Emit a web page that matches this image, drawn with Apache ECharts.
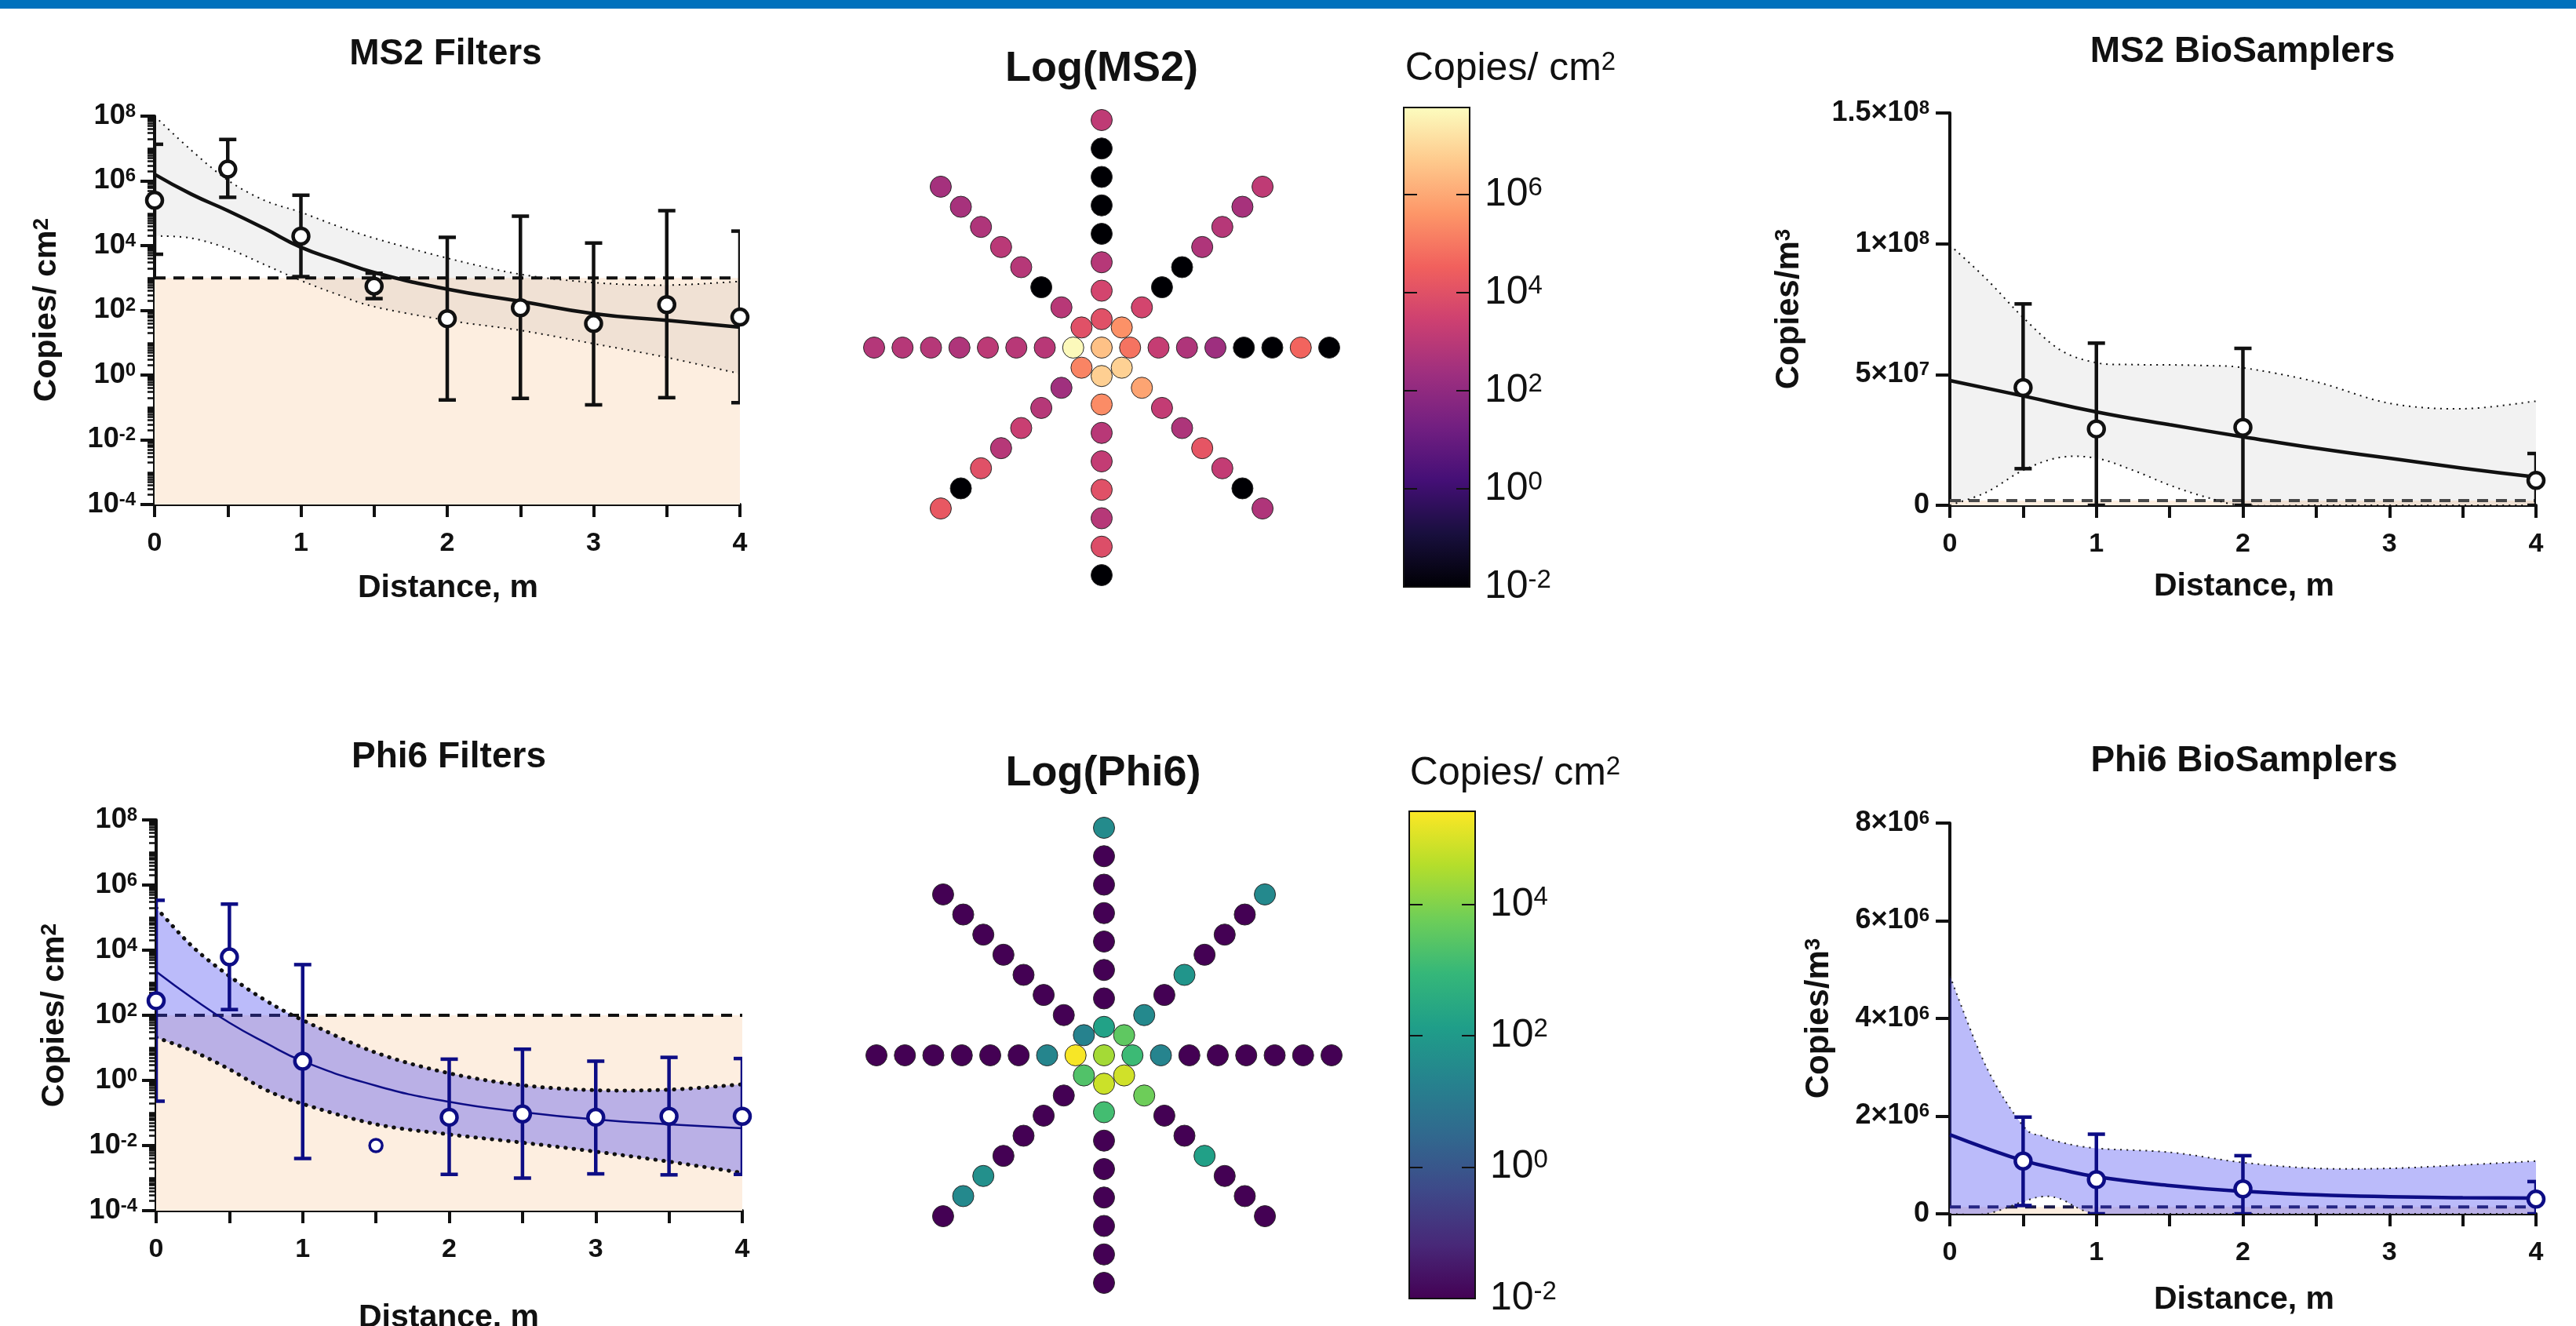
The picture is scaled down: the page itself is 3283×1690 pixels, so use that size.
<!DOCTYPE html>
<html>
<head>
<meta charset="utf-8">
<title>MS2 / Phi6 deposition</title>
<script src="https://cdn.jsdelivr.net/npm/echarts@6.0.0/dist/echarts.min.js"></script>
<style>
  html, body { margin: 0; padding: 0; background: #fff; }
  #main { width: 3283px; height: 1690px; }
</style>
</head>
<body>
<div id="main"></div>
<script>
// ---------- values ----------

// filters, every 0.5 m
var filterX = [0, 0.5, 1, 1.5, 2, 2.5, 3, 3.5, 4];
var ms2FilterMean = [2.5e5, 2.3e6, 1.95e4, 5.6e2, 55, 120, 39, 150, 62];
var ms2FilterLow  = [5.4e3, 3.1e5, 1.1e3, 2.3e2, 0.17, 0.19, 0.12, 0.2, 0.14];
var ms2FilterHigh = [1.35e7, 1.9e7, 3.6e5, 1.4e3, 1.8e4, 8.1e4, 1.2e4, 1.2e5, 2.8e4];

var ms2FilterCurveX = [0, 0.25, 0.5, 0.75, 1, 1.25, 1.5, 2, 2.5, 3, 3.5, 4];
var ms2FilterFit  = [1.6e6, 3.9e5, 1.2e5, 3.4e4, 8.9e3, 3.5e3, 1.48e3, 4.5e2, 1.9e2, 79, 49, 30];
var ms2FilterCiHi = [1e8, 8.9e6, 1.05e6, 2.5e5, 1.07e5, 4e4, 1.7e4, 4.1e3, 1.3e3, 7.2e2, 6e2, 7.8e2];
var ms2FilterCiLo = [2.0e4, 1.7e4, 8.1e3, 2.6e3, 8.3e2, 3.1e2, 1.3e2, 49, 24, 9.3, 3.5, 1.1];
var ms2FilterLod = 1e3;

var phi6FilterMean = [2.8e2, 6.2e3, 3.9, 1e-2, 0.074, 0.093, 0.074, 0.079, 0.079];
var phi6FilterLow  = [0.23, 1.5e2, 4e-3, null, 1.3e-3, 1.0e-3, 1.35e-3, 1.26e-3, 1.3e-3];
var phi6FilterHigh = [3.4e5, 2.6e5, 3.6e3, null, 4.5, 9.1, 3.9, 5.1, 4.7];

var phi6FilterCurveX = [0, 0.25, 0.5, 0.75, 1, 1.5, 2, 2.5, 3, 3.5, 4];
var phi6FilterFit  = [2.2e3, 3.3e2, 59, 14, 3.9, 0.69, 0.22, 0.107, 0.063, 0.045, 0.034];
var phi6FilterCiHi = [2.0e5, 1.26e4, 1.6e3, 2.8e2, 71, 7.1, 1.66, 0.71, 0.5, 0.52, 0.76];
var phi6FilterCiLo = [21, 7.9, 2.2, 0.51, 0.19, 0.045, 0.022, 0.0123, 0.0065, 0.0032, 0.00145];
var phi6FilterLod = 1e2;

// biosamplers
var bioX = [0.5, 1, 2, 4];
var ms2BioMean = [4.5e7, 2.92e7, 2.98e7, 0.95e7];
var ms2BioLow  = [1.4e7, 0, 0, 0];
var ms2BioHigh = [7.7e7, 6.2e7, 6.0e7, 1.98e7];
var ms2BioFitX = [0, 0.5, 1, 1.5, 2, 2.5, 3, 3.5, 4];
var ms2BioFit  = [4.77e7, 4.18e7, 3.57e7, 3.08e7, 2.62e7, 2.18e7, 1.8e7, 1.42e7, 1.08e7];
var ms2BioCiX  = [0, 0.25, 0.5, 0.75, 1, 1.25, 1.5, 1.75, 2, 2.5, 3, 3.5, 4];
var ms2BioCiHi = [9.95e7, 8.65e7, 7.18e7, 5.95e7, 5.45e7, 5.38e7, 5.37e7, 5.34e7, 5.26e7, 4.72e7, 3.9e7, 3.69e7, 3.98e7];
var ms2BioCiLo = [0, 0.5e7, 1.34e7, 1.83e7, 1.8e7, 1.34e7, 0.77e7, 0.31e7, 0, 0, 0, 0, 0];
var ms2BioLod = 1.8e6;

var phi6BioMean = [1.08e6, 0.70e6, 0.51e6, 0.30e6];
var phi6BioLow  = [0.17e6, 0, 0, 0];
var phi6BioHigh = [1.98e6, 1.63e6, 1.19e6, 0.66e6];
var phi6BioFitX = [0, 0.25, 0.5, 0.75, 1, 1.5, 2, 2.5, 3, 3.5, 4];
var phi6BioFit  = [1.62e6, 1.34e6, 1.09e6, 0.91e6, 0.76e6, 0.58e6, 0.46e6, 0.39e6, 0.35e6, 0.33e6, 0.32e6];
var phi6BioCiX  = [0, 0.25, 0.5, 0.625, 0.75, 1, 1.5, 2, 2.5, 3, 3.5, 4];
var phi6BioCiHi = [4.87e6, 3.0e6, 1.8e6, 1.6e6, 1.47e6, 1.34e6, 1.26e6, 1.05e6, 0.93e6, 0.93e6, 1.0e6, 1.08e6];
var phi6BioCiLo = [0, 0, 0.25e6, 0.35e6, 0.31e6, 0, 0, 0, 0, 0, 0, 0];
var phi6BioLod = 0.14e6;

// star maps: log10(copies/cm2), centre dot + 8 rings along each ray
var rayAngles = [0, 45, 90, 135, 180, 225, 270, 315];
var ms2Centre = 6.5;
var ms2Rays = [
  [4.9, 3.25, 2.75, 2.35, -2, -2, 4.6, -2],
  [5.5, 3.6, -2, -2, 2.75, 2.9, 2.55, 3.1],
  [4.0, 3.6, 2.9, -2, -2, -2, -2, 3.1],
  [4.0, 2.95, -2, 2.9, 3.0, 2.75, 2.55, 2.5],
  [7.7, 2.95, 2.95, 3.05, 2.75, 2.9, 2.9, 2.85],
  [5.25, 2.4, 2.9, 3.35, 2.9, 4.0, -2, 4.25],
  [6.8, 5.4, 2.95, 3.2, 4.0, 2.9, 3.9, -2],
  [6.85, 5.9, 3.2, 2.7, 4.15, 3.2, -2, 2.75]
];
var phi6Centre = 4.4;
var phi6Rays = [
  [3.05, 1.35, -2, -2, -2, -2, -2, -2],
  [3.55, 1.5, -2, 1.85, -2, -2, -2, 1.5],
  [2.25, -2, -2, -2, -2, -2, -2, 1.55],
  [1.3, -2, -2, -2, -2, -2, -2, -2],
  [5.35, 1.4, -2, -2, -2, -2, -2, -2],
  [3.35, -2, -2, -2, -2, 1.7, 1.5, -2],
  [4.85, 3.15, -2, -2, -2, -2, -2, -2],
  [4.9, 3.75, -2, -2, 2.2, -2, -2, -2]
];
var ms2BarRange = [-2, 7.78];
var phi6BarRange = [-2, 5.42];

// tick values
var logTicks = [1e-4, 1e-2, 1, 1e2, 1e4, 1e6, 1e8];
var ms2BarTicks = [-2, 0, 2, 4, 6];
var phi6BarTicks = [-2, 0, 2, 4];

// short log ticks: 2..9 within each decade plus the odd decades
var minorLogTicks = [];
for (var e = -4; e < 8; e++) {
  for (var k = 1; k < 10; k++) {
    if (k === 1 && e % 2 === 0) continue;
    minorLogTicks.push(k * Math.pow(10, e));
  }
}

// ---------- styling ----------
var FONT = '"Liberation Sans", Arial, Helvetica, sans-serif';
var INK = '#111';
var NAVY = '#0d0d85';
var PEACH = '#fdeee0';
var MAGMA = ['#000004', '#180f3d', '#440f76', '#721f81', '#9e2f7f', '#cd4071', '#f1605d', '#fd9668', '#feca8d', '#fcfdbf'];
var VIRIDIS = ['#440154', '#482878', '#3e4989', '#31688e', '#26828e', '#1f9e89', '#35b779', '#6ece58', '#b5de2b', '#fde725'];

var boldRich = {
  b: {fontFamily: FONT, fontWeight: 'bold', fontSize: 36, color: INK, verticalAlign: 'bottom'},
  s: {fontFamily: FONT, fontWeight: 'bold', fontSize: 24, color: INK, verticalAlign: 'top'}
};
var barRich = {
  b: {fontFamily: FONT, fontSize: 50, color: INK, verticalAlign: 'bottom'},
  s: {fontFamily: FONT, fontSize: 33, color: INK, verticalAlign: 'top'}
};

function zip(xs, ys) {
  return xs.map(function (x, i) { return [x, ys[i]]; });
}
function powerLabel(v) {
  return '{b|10}{s|' + Math.round(Math.log10(v)) + '}';
}
function expLabel(v) {
  return '{b|10}{s|' + v + '}';
}
function sciLabel(v) {
  if (v === 0) return '{b|0}';
  var e = Math.floor(Math.log10(v) + 1e-9);
  var m = +(v / Math.pow(10, e)).toFixed(2);
  return '{b|' + m + '×10}{s|' + e + '}';
}

var grids = [
  {left: 197, top: 148, width: 746, height: 495},
  {left: 2485, top: 144, width: 747, height: 500},
  {left: 199, top: 1045, width: 747, height: 498},
  {left: 2485, top: 1049, width: 747, height: 498},
  {left: 1789, top: 137, width: 84, height: 611},
  {left: 1796, top: 1034, width: 84, height: 621}
].map(function (g) { g.containLabel = false; g.outerBoundsMode = 'none'; return g; });

function distAxis(gi) {
  return {
    gridIndex: gi, type: 'value', min: 0, max: 4, interval: 0.5,
    axisLine: {onZero: false, lineStyle: {color: INK, width: 4}},
    axisTick: {length: 16, lineStyle: {color: INK, width: 4}},
    axisLabel: {margin: 33, fontFamily: FONT, fontWeight: 'bold', fontSize: 34, color: INK,
      formatter: function (v) { return v % 1 === 0 ? String(v) : ''; }},
    splitLine: {show: false}
  };
}
function logAxis(gi) {
  return {
    gridIndex: gi, type: 'log', logBase: 10, min: 1e-4, max: 1e8, splitNumber: 12, position: 'left',
    axisLine: {lineStyle: {color: INK, width: 4}},
    axisTick: {length: 18, lineStyle: {color: INK, width: 4}, customValues: logTicks},
    axisLabel: {margin: 24, customValues: logTicks, formatter: powerLabel, rich: boldRich},
    splitLine: {show: false}
  };
}
function logMinorAxis(gi) {
  return {
    gridIndex: gi, type: 'log', logBase: 10, min: 1e-4, max: 1e8, splitNumber: 12, position: 'left',
    axisLine: {show: false},
    axisTick: {length: 9, lineStyle: {color: INK, width: 2.5}, customValues: minorLogTicks},
    axisLabel: {show: false},
    splitLine: {show: false}
  };
}
function linAxis(gi, max, step) {
  return {
    gridIndex: gi, type: 'value', min: 0, max: max, interval: step, position: 'left',
    axisLine: {lineStyle: {color: INK, width: 4}},
    axisTick: {length: 18, lineStyle: {color: INK, width: 4}},
    axisLabel: {margin: 26, formatter: sciLabel, rich: boldRich},
    splitLine: {show: false}
  };
}
function barAxis(gi, range, side, ticks, labels) {
  return {
    gridIndex: gi, type: 'value', position: side, min: range[0], max: range[1], z: 10,
    axisLine: {show: false},
    splitLine: {show: false},
    axisTick: {inside: true, length: 17, lineStyle: {color: INK, width: 2},
      customValues: ticks.filter(function (v) { return v > range[0]; })},
    axisLabel: labels ? {margin: 19, customValues: ticks, formatter: expLabel, rich: barRich} : {show: false}
  };
}

var xAxes = [distAxis(0), distAxis(1), distAxis(2), distAxis(3),
  {gridIndex: 4, type: 'value', min: 0, max: 1, show: false},
  {gridIndex: 5, type: 'value', min: 0, max: 1, show: false}];
var yAxes = [
  logAxis(0), linAxis(1, 1.5e8, 5e7), logAxis(2), linAxis(3, 8e6, 2e6),
  barAxis(4, ms2BarRange, 'left', ms2BarTicks, false),
  barAxis(4, ms2BarRange, 'right', ms2BarTicks, true),
  barAxis(5, phi6BarRange, 'left', phi6BarTicks, false),
  barAxis(5, phi6BarRange, 'right', phi6BarTicks, true),
  logMinorAxis(0), logMinorAxis(2)
];

// ---------- series builders ----------
function errorBars(color) {
  return function (params, api) {
    var lo = api.value(1), hi = api.value(2);
    if (isNaN(lo) || isNaN(hi)) return null;
    var a = api.coord([api.value(0), lo]);
    var b = api.coord([api.value(0), hi]);
    var cap = 11;
    var st = {stroke: color, lineWidth: 4.5};
    return {type: 'group', children: [
      {type: 'line', shape: {x1: a[0], y1: a[1], x2: b[0], y2: b[1]}, style: st},
      {type: 'line', shape: {x1: a[0] - cap, y1: a[1], x2: a[0] + cap, y2: a[1]}, style: st},
      {type: 'line', shape: {x1: b[0] - cap, y1: b[1], x2: b[0] + cap, y2: b[1]}, style: st}
    ]};
  };
}

// Catmull-Rom through pixel points -> cubic bezier path commands
function spline(pts) {
  var d = '';
  for (var i = 0; i < pts.length - 1; i++) {
    var p0 = pts[i - 1] || pts[i], p1 = pts[i], p2 = pts[i + 1], p3 = pts[i + 2] || p2;
    d += ' C' + (p1[0] + (p2[0] - p0[0]) / 6) + ' ' + (p1[1] + (p2[1] - p0[1]) / 6) +
         ' ' + (p2[0] - (p3[0] - p1[0]) / 6) + ' ' + (p2[1] - (p3[1] - p1[1]) / 6) +
         ' ' + p2[0] + ' ' + p2[1];
  }
  return d;
}

// confidence band: fill between the bounds plus the two dotted bound lines
function ciBand(fill, line) {
  return function (params, api) {
    if (params.dataIndexInside !== 0) return null;
    var n = params.dataInsideLength;
    var up = [], lo = [];
    for (var i = 0; i < n; i++) {
      var x = api.value(0, i);
      lo.push(api.coord([x, api.value(1, i)]));
      up.push(api.coord([x, api.value(2, i)]));
    }
    var rev = lo.slice().reverse();
    var area = 'M' + up[0][0] + ' ' + up[0][1] + spline(up) +
      ' L' + rev[0][0] + ' ' + rev[0][1] + spline(rev) + ' Z';
    var st = {fill: 'none', stroke: line.color, lineWidth: line.width, lineDash: line.dash, lineCap: line.cap || 'butt'};
    return {type: 'group', children: [
      {type: 'path', shape: {pathData: area}, style: {fill: fill, stroke: 'none'}},
      {type: 'path', shape: {pathData: 'M' + up[0][0] + ' ' + up[0][1] + spline(up)}, style: st},
      {type: 'path', shape: {pathData: 'M' + lo[0][0] + ' ' + lo[0][1] + spline(lo)}, style: st}
    ]};
  };
}

function panel(p, cfg) {
  var ax = {xAxisIndex: p, yAxisIndex: p};
  var out = [];
  // detection limit + area below it
  out.push(Object.assign({
    type: 'line', data: [[0, cfg.lod], [4, cfg.lod]], symbol: 'none', silent: true, z: 1,
    lineStyle: {color: cfg.lodColor, width: 4, type: [14, 10]},
    areaStyle: {color: PEACH, opacity: 1, origin: 'start'}
  }, ax));
  out.push(Object.assign({
    type: 'custom', renderItem: ciBand(cfg.band, cfg.ciLine), clip: true, silent: true, z: 2,
    encode: {x: 0, y: [1, 2]},
    data: cfg.ciX.map(function (x, i) { return [x, cfg.ciLo[i], cfg.ciHi[i]]; })
  }, ax));
  // fitted curve
  out.push(Object.assign({
    type: 'line', data: zip(cfg.fitX, cfg.fit), smooth: true, symbol: 'none', silent: true, z: 3,
    lineStyle: {color: cfg.color, width: cfg.fitWidth}
  }, ax));
  // error bars
  out.push(Object.assign({
    type: 'custom', renderItem: errorBars(cfg.color), clip: true, silent: true, z: 4,
    encode: {x: 0, y: [1, 2]},
    data: cfg.x.map(function (x, i) { return [x, cfg.low[i], cfg.high[i]]; })
  }, ax));
  // means
  out.push(Object.assign({
    type: 'scatter', clip: false, silent: true, z: 5, symbol: 'circle', symbolSize: 20,
    itemStyle: {color: '#fff', borderColor: cfg.color, borderWidth: 4.5, opacity: 1},
    data: cfg.x.map(function (x, i) {
      var item = {value: [x, cfg.mean[i]]};
      if (cfg.low[i] == null) { item.symbolSize = 16; item.itemStyle = {borderWidth: 3.5}; }
      return item;
    })
  }, ax));
  return out;
}

function starData(centre, rays) {
  var out = [[0, 0, centre]];
  rays.forEach(function (ray, k) {
    ray.forEach(function (v, i) { out.push([i + 1, rayAngles[k], v]); });
  });
  return out;
}

function colourBar(colors) {
  var stops = colors.map(function (c, i) { return {offset: i / (colors.length - 1), color: c}; });
  return function (params, api) {
    var p0 = api.coord([0, api.value(1)]);
    var p1 = api.coord([1, api.value(2)]);
    return {type: 'rect',
      shape: {x: p0[0], y: p1[1], width: p1[0] - p0[0], height: p0[1] - p1[1]},
      style: {fill: new echarts.graphic.LinearGradient(0, 1, 0, 0, stops), stroke: INK, lineWidth: 2}};
  };
}

var series = [];
series = series.concat(panel(0, {
  x: filterX, mean: ms2FilterMean, low: ms2FilterLow, high: ms2FilterHigh,
  fitX: ms2FilterCurveX, fit: ms2FilterFit, ciX: ms2FilterCurveX, ciLo: ms2FilterCiLo, ciHi: ms2FilterCiHi,
  lod: ms2FilterLod, lodColor: INK, color: INK, fitWidth: 4.5,
  band: 'rgba(0,0,0,0.05)', ciLine: {color: INK, width: 2, dash: [2, 6]}
}));
series = series.concat(panel(1, {
  x: bioX, mean: ms2BioMean, low: ms2BioLow, high: ms2BioHigh,
  fitX: ms2BioFitX, fit: ms2BioFit, ciX: ms2BioCiX, ciLo: ms2BioCiLo, ciHi: ms2BioCiHi,
  lod: ms2BioLod, lodColor: '#4a4a4a', color: INK, fitWidth: 4.5,
  band: 'rgba(0,0,0,0.05)', ciLine: {color: INK, width: 2, dash: [2, 6]}
}));
series = series.concat(panel(2, {
  x: filterX, mean: phi6FilterMean, low: phi6FilterLow, high: phi6FilterHigh,
  fitX: phi6FilterCurveX, fit: phi6FilterFit, ciX: phi6FilterCurveX, ciLo: phi6FilterCiLo, ciHi: phi6FilterCiHi,
  lod: phi6FilterLod, lodColor: INK, color: NAVY, fitWidth: 2.5,
  band: 'rgba(60,60,240,0.35)', ciLine: {color: INK, width: 5, dash: [0.5, 10], cap: 'round'}
}));
series = series.concat(panel(3, {
  x: bioX, mean: phi6BioMean, low: phi6BioLow, high: phi6BioHigh,
  fitX: phi6BioFitX, fit: phi6BioFit, ciX: phi6BioCiX, ciLo: phi6BioCiLo, ciHi: phi6BioCiHi,
  lod: phi6BioLod, lodColor: '#1a1a4a', color: NAVY, fitWidth: 4.5,
  band: 'rgba(60,60,240,0.35)', ciLine: {color: '#222', width: 2, dash: [2, 6]}
}));

var ms2StarIndex = series.length;
series.push({
  type: 'scatter', coordinateSystem: 'polar', polarIndex: 0, symbolSize: 27, silent: true,
  itemStyle: {borderColor: '#2a2a2a', borderWidth: 1, opacity: 1},
  data: starData(ms2Centre, ms2Rays)
});
var phi6StarIndex = series.length;
series.push({
  type: 'scatter', coordinateSystem: 'polar', polarIndex: 1, symbolSize: 27, silent: true,
  itemStyle: {borderColor: '#2a2a2a', borderWidth: 1, opacity: 1},
  data: starData(phi6Centre, phi6Rays)
});
series.push({
  type: 'custom', xAxisIndex: 4, yAxisIndex: 4, silent: true, z: 2,
  renderItem: colourBar(MAGMA), encode: {x: 0, y: [1, 2]},
  data: [[0, ms2BarRange[0], ms2BarRange[1]]]
});
series.push({
  type: 'custom', xAxisIndex: 5, yAxisIndex: 6, silent: true, z: 2,
  renderItem: colourBar(VIRIDIS), encode: {x: 0, y: [1, 2]},
  data: [[0, phi6BarRange[0], phi6BarRange[1]]]
});

// ---------- text ----------
function text(x, y, str, size, weight, rotate) {
  return {
    type: 'text', x: x, y: y, rotation: rotate ? Math.PI / 2 : 0, silent: true, z: 50,
    style: {text: str, fontFamily: FONT, fontSize: size, fontWeight: weight, fill: INK,
      align: 'center', verticalAlign: 'middle', textAlign: 'center', textVerticalAlign: 'middle'}
  };
}
function supText(x, y, base, sup, size, supSize, weight, rotate) {
  var el = text(x, y, '{a|' + base + '}{s|' + sup + '}', size, weight, rotate);
  el.style.rich = {
    a: {fontFamily: FONT, fontSize: size, fontWeight: weight, fill: INK, color: INK, verticalAlign: 'bottom'},
    s: {fontFamily: FONT, fontSize: supSize, fontWeight: weight, fill: INK, color: INK, verticalAlign: 'top'}
  };
  return el;
}

var graphics = [
  {type: 'rect', shape: {x: 0, y: 0, width: 3283, height: 11}, style: {fill: '#0171bc'}, silent: true},
  text(568, 69, 'MS2 Filters', 46, 'bold'),
  text(2858, 66, 'MS2 BioSamplers', 46, 'bold'),
  text(572, 965, 'Phi6 Filters', 46, 'bold'),
  text(2860, 970, 'Phi6 BioSamplers', 46, 'bold'),
  text(1404, 88, 'Log(MS2)', 54, 'bold'),
  text(1406, 986, 'Log(Phi6)', 54, 'bold'),
  supText(1925, 88, 'Copies/ cm', '2', 50, 33, 'normal'),
  supText(1931, 986, 'Copies/ cm', '2', 50, 33, 'normal'),
  text(571, 750, 'Distance, m', 41, 'bold'),
  text(2860, 748, 'Distance, m', 41, 'bold'),
  text(572, 1680, 'Distance, m', 41, 'bold'),
  text(2860, 1657, 'Distance, m', 41, 'bold'),
  supText(60, 395, 'Copies/ cm', '2', 41, 28, 'bold', true),
  supText(70, 1294, 'Copies/ cm', '2', 41, 28, 'bold', true),
  supText(2280, 394, 'Copies/m', '3', 42, 28, 'bold', true),
  supText(2318, 1298, 'Copies/m', '3', 42, 28, 'bold', true)
];

var chart = echarts.init(document.getElementById('main'), null, {width: 3283, height: 1690});
chart.setOption({
  animation: false,
  backgroundColor: '#fff',
  grid: grids,
  xAxis: xAxes,
  yAxis: yAxes,
  polar: [
    {center: [1404, 443], radius: 290},
    {center: [1407, 1345], radius: 290}
  ],
  angleAxis: [
    {polarIndex: 0, type: 'value', min: 0, max: 360, startAngle: 0, clockwise: false, show: false},
    {polarIndex: 1, type: 'value', min: 0, max: 360, startAngle: 0, clockwise: false, show: false}
  ],
  radiusAxis: [
    {polarIndex: 0, type: 'value', min: 0, max: 8, show: false},
    {polarIndex: 1, type: 'value', min: 0, max: 8, show: false}
  ],
  visualMap: [
    {type: 'continuous', show: false, seriesIndex: ms2StarIndex, dimension: 2,
      min: ms2BarRange[0], max: ms2BarRange[1], inRange: {color: MAGMA}},
    {type: 'continuous', show: false, seriesIndex: phi6StarIndex, dimension: 2,
      min: phi6BarRange[0], max: phi6BarRange[1], inRange: {color: VIRIDIS}}
  ],
  graphic: graphics,
  series: series
});
</script>
</body>
</html>
